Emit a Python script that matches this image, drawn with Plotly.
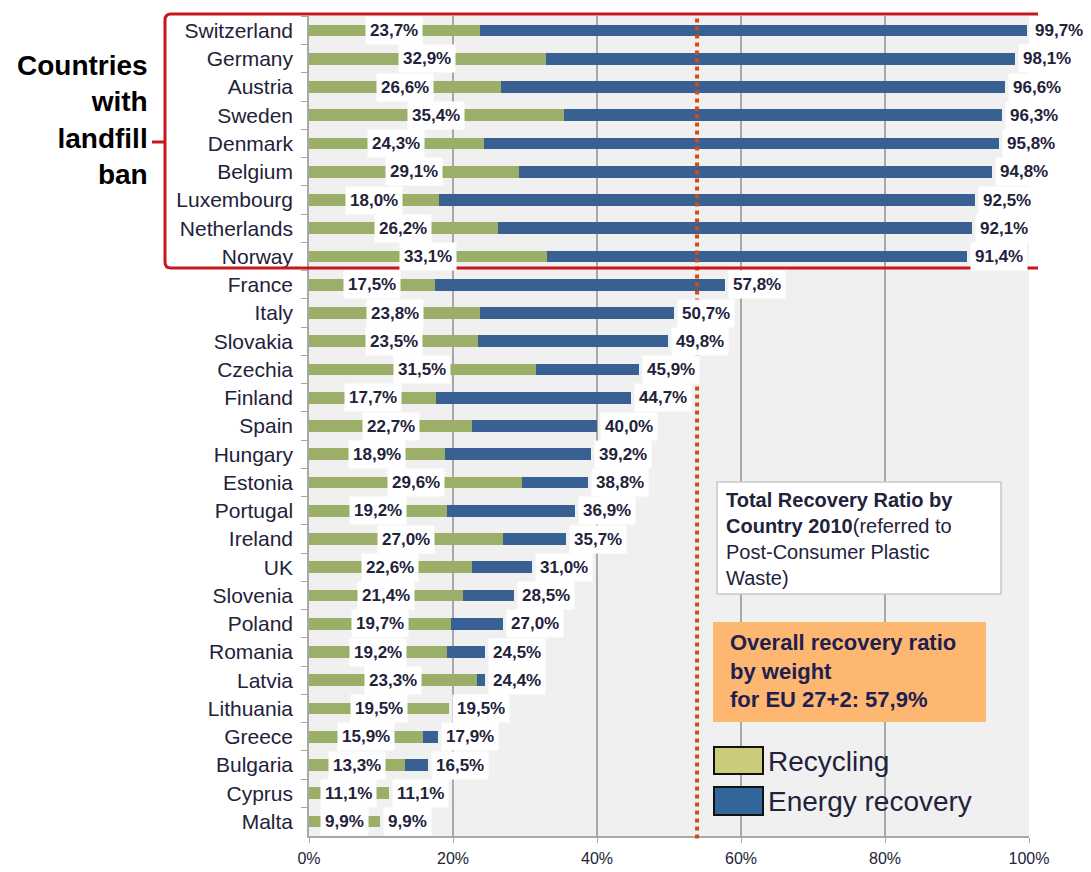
import plotly.graph_objects as go

countries = ["Switzerland", "Germany", "Austria", "Sweden", "Denmark", "Belgium",
             "Luxembourg", "Netherlands", "Norway", "France", "Italy", "Slovakia",
             "Czechia", "Finland", "Spain", "Hungary", "Estonia", "Portugal", "Ireland",
             "UK", "Slovenia", "Poland", "Romania", "Latvia", "Lithuania", "Greece",
             "Bulgaria", "Cyprus", "Malta"]
recycling = [23.7, 32.9, 26.6, 35.4, 24.3, 29.1, 18.0, 26.2, 33.1, 17.5, 23.8, 23.5,
             31.5, 17.7, 22.7, 18.9, 29.6, 19.2, 27.0, 22.6, 21.4, 19.7, 19.2, 23.3,
             19.5, 15.9, 13.3, 11.1, 9.9]
total = [99.7, 98.1, 96.6, 96.3, 95.8, 94.8, 92.5, 92.1, 91.4, 57.8, 50.7, 49.8,
         45.9, 44.7, 40.0, 39.2, 38.8, 36.9, 35.7, 31.0, 28.5, 27.0, 24.5, 24.4,
         19.5, 17.9, 16.5, 11.1, 9.9]
eu_line = 53.9
x_ticks = [0, 20, 40, 60, 80, 100]

energy = [t - r for t, r in zip(total, recycling)]

FONT = "Liberation Sans, Arial, sans-serif"
TXT = "#22223a"

# plot area in pixels (for the decorations around the chart)
L, R, T, B = 309, 1029, 16, 836


def px(x):
    return (x - L) / (R - L)


def py(y):
    return (B - y) / (B - T)


def pct(v):
    return f"{v:.1f}".replace(".", ",") + "%"


fig = go.Figure()
fig.add_trace(go.Bar(y=countries, x=recycling, orientation="h", name="Recycling",
                     marker=dict(color="#9baf69", line_width=0)))
fig.add_trace(go.Bar(y=countries, x=energy, orientation="h", name="Energy recovery",
                     marker=dict(color="#386092", line_width=0)))

annotations = []
for c, r, t in zip(countries, recycling, total):
    annotations.append(dict(x=r / 2, y=c, xref="x", yref="y", text="<b>" + pct(r) + "</b>",
                            showarrow=False, bgcolor="white", borderpad=4,
                            font=dict(family=FONT, size=17, color=TXT)))
    annotations.append(dict(x=t, y=c, xref="x", yref="y", text="<b>" + pct(t) + "</b>",
                            showarrow=False, bgcolor="white", borderpad=4, xanchor="left",
                            xshift=3, font=dict(family=FONT, size=17, color=TXT)))

annotations.append(dict(x=px(150), y=py(120), xref="paper", yref="paper",
                        xanchor="right", yanchor="middle", align="right", showarrow=False,
                        text="<b>Countries<br>with<br>landfill<br>ban</b>",
                        font=dict(family=FONT, size=28, color="black")))
annotations.append(dict(x=px(724), y=py(539), xref="paper", yref="paper",
                        xanchor="left", yanchor="middle", align="left", showarrow=False,
                        text="<b>Total Recovery Ratio by<br>Country 2010</b>(referred to<br>"
                             "Post-Consumer Plastic<br>Waste)",
                        font=dict(family=FONT, size=20, color=TXT)))
annotations.append(dict(x=px(728), y=py(671), xref="paper", yref="paper",
                        xanchor="left", yanchor="middle", align="left", showarrow=False,
                        text="<b>Overall recovery ratio<br>by weight<br>for EU 27+2: 57,9%</b>",
                        font=dict(family=FONT, size=22, color="#1f2050")))
annotations.append(dict(x=px(766), y=py(761), xref="paper", yref="paper",
                        xanchor="left", yanchor="middle", showarrow=False, text="Recycling",
                        font=dict(family=FONT, size=28, color=TXT)))
annotations.append(dict(x=px(766), y=py(801), xref="paper", yref="paper",
                        xanchor="left", yanchor="middle", showarrow=False, text="Energy recovery",
                        font=dict(family=FONT, size=28, color=TXT)))

rr = 6
bracket = (f"M {px(1038)},{py(14)} L {px(165 + rr)},{py(14)} "
           f"Q {px(165)},{py(14)} {px(165)},{py(14 + rr)} "
           f"L {px(165)},{py(268 - rr)} Q {px(165)},{py(268)} {px(165 + rr)},{py(268)} "
           f"L {px(1038)},{py(268)} M {px(165)},{py(142)} L {px(152)},{py(142)}")

shapes = [
    dict(type="rect", xref="paper", yref="paper", x0=px(717), x1=px(1001), y0=py(594), y1=py(482),
         fillcolor="white", line=dict(color="#c8c8c8", width=1.5), layer="above"),
    dict(type="rect", xref="paper", yref="paper", x0=px(713), x1=px(986), y0=py(722), y1=py(622),
         fillcolor="#fdb770", line_width=0, layer="above"),
    dict(type="rect", xref="paper", yref="paper", x0=px(714), x1=px(763), y0=py(774), y1=py(747),
         fillcolor="#cbcb7b", line=dict(color="#111111", width=2), layer="above"),
    dict(type="rect", xref="paper", yref="paper", x0=px(714), x1=px(763), y0=py(815), y1=py(787),
         fillcolor="#336699", line=dict(color="#111111", width=2), layer="above"),
    dict(type="line", xref="x", yref="paper", x0=eu_line, x1=eu_line, y0=-0.003, y1=1.0,
         line=dict(color="#d44a10", width=4, dash="dot"), layer="above"),
    dict(type="path", xref="paper", yref="paper", path=bracket,
         line=dict(color="#c8161d", width=3), layer="above"),
]

fig.update_layout(
    width=1091, height=872,
    margin=dict(l=L, r=1091 - R, t=T, b=872 - B),
    barmode="stack", bargap=0.58, showlegend=False,
    plot_bgcolor="#f0f0f0", paper_bgcolor="white",
    font=dict(family=FONT, color=TXT),
    annotations=annotations, shapes=shapes,
    xaxis=dict(range=[0, 100], tickvals=x_ticks, ticktext=[f"{v}%" for v in x_ticks],
               showgrid=True, gridcolor="#a8a8a8", gridwidth=1.5, zeroline=False,
               showline=True, linecolor="#a8a8a8", linewidth=1.5, automargin=False,
               ticks="outside", ticklen=5, tickcolor="#a8a8a8", ticklabelstandoff=2,
               tickfont=dict(size=16, color=TXT)),
    yaxis=dict(categoryorder="array", categoryarray=countries, autorange="reversed",
               tickson="boundaries", ticks="outside", ticklen=6, tickcolor="#a8a8a8",
               showline=True, linecolor="#a8a8a8", linewidth=1.5, showgrid=False,
               automargin=False, ticklabelstandoff=10, tickfont=dict(size=21, color=TXT)),
)

fig.write_html("out.html", config={"displayModeBar": False},
               post_script="document.body.style.margin='0';")
